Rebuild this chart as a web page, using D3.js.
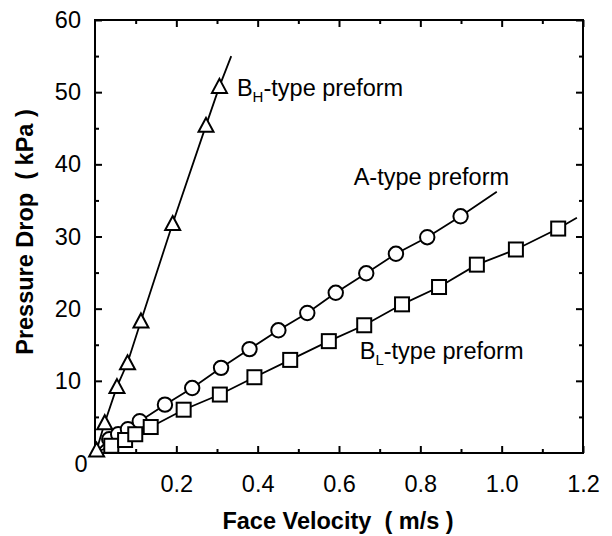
<!DOCTYPE html>
<html>
<head>
<meta charset="utf-8">
<script src="https://cdn.jsdelivr.net/npm/d3@7/dist/d3.min.js"></script>
<style>
  html, body { margin: 0; padding: 0; background: #fff; }
  svg { display: block; }
  text { font-family: "Liberation Sans", Arial, Helvetica, sans-serif; fill: #000; }
</style>
</head>
<body>
<svg id="chart" width="612" height="536"></svg>
<script>
// ---- data ----
const bhX = [0.004, 0.024, 0.054, 0.080, 0.113, 0.191, 0.273, 0.306];
const bhY = [0.4, 4.2, 9.2, 12.5, 18.3, 31.8, 45.4, 50.8];
const bhLineEnd = [0.335, 55.0];

const aX = [0.035, 0.057, 0.081, 0.110, 0.172, 0.239, 0.310, 0.380, 0.451, 0.522, 0.592, 0.667, 0.740, 0.817, 0.899];
const aY = [1.9, 2.6, 3.3, 4.4, 6.7, 9.0, 11.8, 14.4, 17.0, 19.4, 22.2, 24.9, 27.6, 29.9, 32.8];
const aLineEnd = [0.988, 36.2];

const blX = [0.040, 0.074, 0.099, 0.137, 0.218, 0.307, 0.392, 0.480, 0.575, 0.662, 0.755, 0.846, 0.939, 1.035, 1.139];
const blY = [1.0, 1.8, 2.6, 3.6, 6.0, 8.1, 10.5, 12.9, 15.5, 17.7, 20.6, 23.0, 26.1, 28.2, 31.1];
const blLineEnd = [1.185, 32.6];

const lineStart = [0, 0];

const xMajor = [0.2, 0.4, 0.6, 0.8, 1.0, 1.2];
const xMajorLabels = ["0.2", "0.4", "0.6", "0.8", "1.0", "1.2"];
const xMinor = [0.1, 0.3, 0.5, 0.7, 0.9, 1.1];
const yMajor = [10, 20, 30, 40, 50, 60];
const yMajorLabels = ["10", "20", "30", "40", "50", "60"];
const yMinor = [5, 15, 25, 35, 45, 55];
const originLabel = "0";

const xTitle = "Face Velocity  ( m/s )";
const yTitle = "Pressure Drop  ( kPa )";

// ---- layout ----
const L = 95, R = 583, T = 20, B = 453;
const svg = d3.select("#chart");
const x = d3.scaleLinear().domain([0, 1.2]).range([L, R]);
const y = d3.scaleLinear().domain([0, 60]).range([B, T]);
const FS = 23.5;

function axes(gen, transform, vals, size, fmt, pad) {
  const g = svg.append("g").attr("transform", transform)
    .call(gen.tickValues(vals).tickSize(size).tickPadding(pad || 3).tickFormat(fmt || (() => "")));
  g.select(".domain").remove();
  g.selectAll("line").attr("stroke", "#000").attr("stroke-width", 2);
  g.selectAll("text").style("font-size", FS + "px").style("font-family", '"Liberation Sans", Arial, sans-serif').attr("fill", "#000");
  return g;
}
axes(d3.axisBottom(x), `translate(0,${B})`, xMajor, -7, (d, i) => xMajorLabels[i], 22);
axes(d3.axisBottom(x), `translate(0,${B})`, xMinor, -4);
axes(d3.axisTop(x), `translate(0,${T})`, xMajor, -7);
axes(d3.axisTop(x), `translate(0,${T})`, xMinor, -4);
axes(d3.axisLeft(y), `translate(${L},0)`, yMajor, -7, (d, i) => yMajorLabels[i], 14);
axes(d3.axisLeft(y), `translate(${L},0)`, yMinor, -4);
axes(d3.axisRight(y), `translate(${R},0)`, yMajor, -7);
axes(d3.axisRight(y), `translate(${R},0)`, yMinor, -4);

svg.append("rect").attr("x", L).attr("y", T).attr("width", R - L).attr("height", B - T)
  .attr("fill", "none").attr("stroke", "#000").attr("stroke-width", 2);

svg.append("text").attr("x", 81).attr("y", 464).attr("dy", "0.35em")
  .attr("text-anchor", "middle").style("font-size", FS + "px").text(originLabel);

const line = d3.line().x(d => x(d[0])).y(d => y(d[1]));
function series(xs, ys, end) {
  return [lineStart].concat(xs.map((v, i) => [v, ys[i]])).concat([end]);
}
[[bhX, bhY, bhLineEnd], [aX, aY, aLineEnd], [blX, blY, blLineEnd]].forEach(([xs, ys, e]) => {
  svg.append("path").attr("d", line(series(xs, ys, e)))
    .attr("fill", "none").attr("stroke", "#000").attr("stroke-width", 1.8);
});

const mk = svg.append("g").attr("fill", "#fff").attr("stroke", "#000").attr("stroke-width", 2);
aX.forEach((v, i) => mk.append("circle").attr("cx", x(v)).attr("cy", y(aY[i])).attr("r", 7.2));
blX.forEach((v, i) => mk.append("rect").attr("x", x(v) - 7).attr("y", y(blY[i]) - 7).attr("width", 14).attr("height", 14));
bhX.forEach((v, i) => {
  const cx = x(v), cy = y(bhY[i]);
  mk.append("path").attr("d", `M${cx},${cy - 7.5}L${cx + 7.5},${cy + 6.5}L${cx - 7.5},${cy + 6.5}Z`);
});

function seriesLabel(px, py, main, sub, rest) {
  const t = svg.append("text").attr("x", px).attr("y", py).style("font-size", FS + "px");
  t.append("tspan").text(main);
  if (sub) {
    t.append("tspan").attr("dy", 6).style("font-size", "15px").text(sub);
    t.append("tspan").attr("dy", -6).text(rest);
  } else {
    t.append("tspan").text(rest);
  }
}
seriesLabel(x(0.349), 96, "B", "H", "-type preform");
seriesLabel(x(0.636), 185, "A", null, "-type preform");
seriesLabel(x(0.651), 359, "B", "L", "-type preform");

svg.append("text").attr("x", 338).attr("y", 529).attr("text-anchor", "middle")
  .style("font-size", "23.5px").style("font-weight", "bold").attr("xml:space", "preserve").text(xTitle);
svg.append("text").attr("transform", "translate(33,232) rotate(-90)").attr("text-anchor", "middle")
  .style("font-size", "23.5px").style("font-weight", "bold").attr("xml:space", "preserve").text(yTitle);
</script>
</body>
</html>
